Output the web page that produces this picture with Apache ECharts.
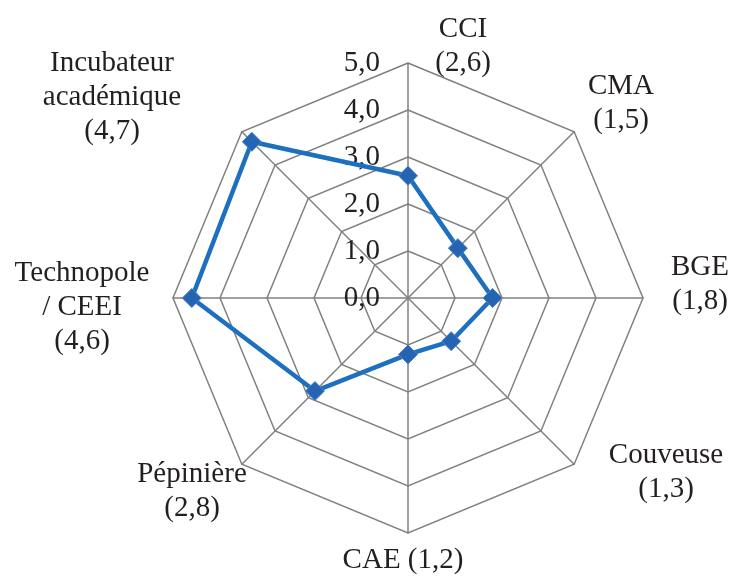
<!DOCTYPE html>
<html>
<head>
<meta charset="utf-8">
<script src="https://cdn.jsdelivr.net/npm/echarts@6/dist/echarts.min.js"></script>
<style>
  html, body { margin: 0; padding: 0; background: #fff; }
  #main { width: 730px; height: 576px; }
</style>
</head>
<body>
<div id="main"></div>
<script>
// categories clockwise from the top, as read on the chart
const categories = ['CCI', 'CMA', 'BGE', 'Couveuse', 'CAE', 'Pépinière', 'Technopole / CEEI', 'Incubateur académique'];
const values = [2.6, 1.5, 1.8, 1.3, 1.2, 2.8, 4.6, 4.7];
const tickValues = [0, 1, 2, 3, 4, 5];

const fmt = v => v.toFixed(1).replace('.', ',');

// where each category label sits (layout only)
const labelLayout = [
    { x: 463, y: 46, join: '\n', wrap: false },
    { x: 621, y: 103, join: '\n', wrap: false },
    { x: 700, y: 284, join: '\n', wrap: false },
    { x: 666, y: 472, join: '\n', wrap: false },
    { x: 403, y: 560, join: ' ', wrap: false },
    { x: 192, y: 491, join: '\n', wrap: false },
    { x: 82, y: 307, join: '\n', wrap: true },
    { x: 112, y: 97, join: '\n', wrap: true }
];

const FONT = "'Liberation Serif', 'Times New Roman', serif";
const GRID = '#808080';

// echarts lays radar axes counter-clockwise, so walk the list backwards
const order = categories.map((_, i) => (categories.length - i) % categories.length);

const chart = echarts.init(document.getElementById('main'));

const option = {
    animation: false,
    radar: {
        center: [408, 298],
        radius: 235,
        startAngle: 90,
        shape: 'polygon',
        splitNumber: tickValues.length - 1,
        axisName: { show: false },
        splitArea: { show: false },
        splitLine: { lineStyle: { color: GRID, width: 1.5 } },
        axisLine: { lineStyle: { color: GRID, width: 1.5 } },
        axisTick: { show: false },
        axisLabel: {
            show: false,
            fontFamily: FONT,
            fontSize: 29,
            color: '#231f20',
            margin: 28,
            formatter: v => fmt(v)
        },
        indicator: order.map((i, k) => ({
            name: categories[i],
            min: tickValues[0],
            max: tickValues[tickValues.length - 1],
            axisLabel: { show: k === 0 }
        }))
    },
    series: [{
        type: 'radar',
        symbol: 'diamond',
        symbolSize: 19,
        lineStyle: { color: '#1D6FC0', width: 4.5 },
        itemStyle: { color: '#2563B3', borderColor: '#4A7FC8', borderWidth: 1 },
        data: [{ value: order.map(i => values[i]) }]
    }],
    graphic: categories.map((name, i) => {
        const l = labelLayout[i];
        const text = (l.wrap ? name.replace(' ', '\n') : name) + l.join + '(' + fmt(values[i]) + ')';
        return {
            type: 'text',
            x: l.x,
            y: l.y,
            style: {
                text: text,
                fontFamily: FONT,
                fontSize: 29,
                lineHeight: 34,
                fill: '#231f20',
                align: 'center',
                verticalAlign: 'middle'
            }
        };
    })
};

chart.setOption(option);
</script>
</body>
</html>
